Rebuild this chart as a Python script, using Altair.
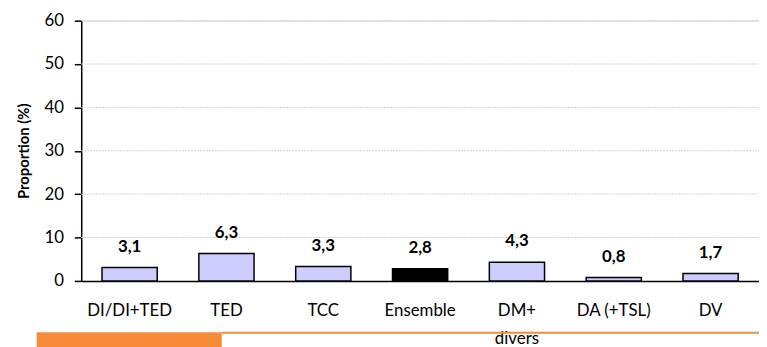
import altair as alt
import pandas as pd

categories = ["DI/DI+TED", "TED", "TCC", "Ensemble", "DM+\ndivers", "DA (+TSL)", "DV"]
values = [3.1, 6.3, 3.3, 2.8, 4.3, 0.8, 1.7]
labels = ["3,1", "6,3", "3,3", "2,8", "4,3", "0,8", "1,7"]
is_total = [False, False, False, True, False, False, False]
y_ticks = [0, 10, 20, 30, 40, 50, 60]

df = pd.DataFrame({"cat": categories, "val": values, "lab": labels, "total": is_total})
grid_df = pd.DataFrame({"g": y_ticks[1:]})

FONT = "Lato"
W, H = 685, 263

x_enc = alt.X("cat:N", sort=categories, title=None,
              scale=alt.Scale(paddingInner=0.43, paddingOuter=0.215),
              axis=alt.Axis(labelExpr="split(datum.label, '\\n')", labelAngle=0,
                            ticks=False, domain=True, domainColor="black", domainWidth=1.5,
                            labelFont=FONT, labelFontSize=17, labelColor="black",
                            labelPadding=22, labelLineHeight=28, labelBaseline="top"))
y_scale = alt.Scale(domain=[0, 60], nice=False)

grid = alt.Chart(grid_df).mark_rule(color="#cfcfcf", strokeWidth=1, strokeDash=[2, 1]).encode(
    y=alt.Y("g:Q", scale=y_scale), x=alt.value(0), x2=alt.value(W)
)

bars = alt.Chart(df).mark_bar(stroke="black", strokeWidth=1.5).encode(
    x=x_enc,
    y=alt.Y("val:Q", scale=y_scale, title="Proportion (%)",
            axis=alt.Axis(values=y_ticks, grid=False, tickSize=7, tickColor="black", tickWidth=1.5,
                          domainColor="black", domainWidth=1.5,
                          labelFont=FONT, labelFontSize=17, labelColor="black", labelPadding=11,
                          titleFont=FONT, titleFontSize=15, titleFontWeight="bold",
                          titleColor="black", titlePadding=13)),
    color=alt.Color("total:N", scale=alt.Scale(domain=[False, True], range=["#ccccff", "#000000"]),
                    legend=None),
)

text = alt.Chart(df).mark_text(font=FONT, fontSize=17, fontWeight="bold", color="black",
                               dy=-21, baseline="middle").encode(
    x=alt.X("cat:N", sort=categories),
    y=alt.Y("val:Q", scale=y_scale),
    text="lab:N",
)

orange_box = alt.Chart(pd.DataFrame({"a": [0]})).mark_rect(color="#f68b3a").encode(
    x=alt.value(-45), x2=alt.value(142), y=alt.value(315), y2=alt.value(335)
)
orange_line = alt.Chart(pd.DataFrame({"a": [0]})).mark_rule(color="#f68b3a", strokeWidth=2).encode(
    x=alt.value(142), x2=alt.value(W), y=alt.value(315.5)
)

chart = alt.layer(grid, bars, text, orange_box, orange_line).properties(
    width=W, height=H,
    autosize=alt.AutoSizeParams(type="none"),
    padding={"left": 74, "top": 11, "right": 0, "bottom": 65},
).configure_view(stroke=None).configure(background="white")

chart.save("out.html", embed_options={"renderer": "svg", "actions": False})
